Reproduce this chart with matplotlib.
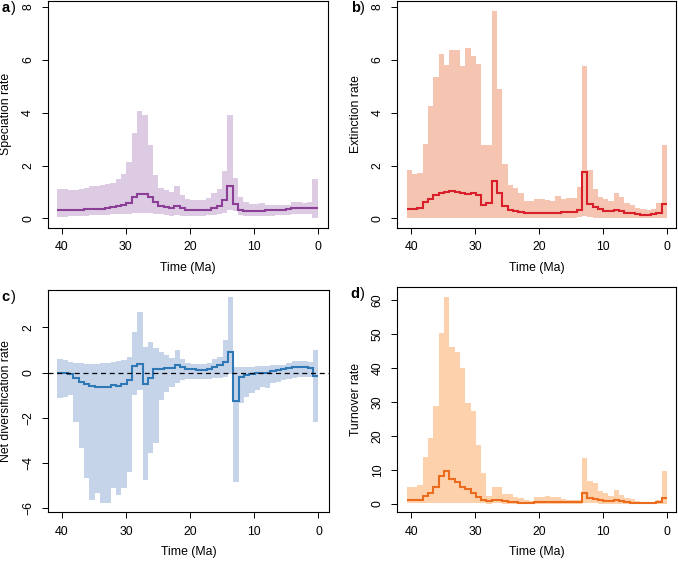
"""Diversification-rate through time, four panels (speciation, extinction, net, turnover)."""
import numpy as np
import matplotlib
matplotlib.use("Agg")
import matplotlib.pyplot as plt

plt.rcParams["font.family"] = ["Liberation Sans", "DejaVu Sans"]
plt.rcParams["font.size"] = 8

# 49 time bins, oldest (40.7 Ma) to present
edges = np.linspace(40.7, 0, 50)

spec_mean = [0.33, 0.33, 0.33, 0.33, 0.33, 0.34, 0.35, 0.35, 0.36, 0.38, 0.41, 0.45, 0.50,
             0.58, 0.80, 0.93, 0.91, 0.80, 0.62, 0.45, 0.42, 0.40, 0.48, 0.38, 0.32, 0.30,
             0.30, 0.30, 0.33, 0.40, 0.48, 0.70, 1.22, 0.55, 0.32, 0.27, 0.27, 0.28, 0.27,
             0.30, 0.30, 0.32, 0.33, 0.34, 0.38, 0.39, 0.40, 0.38, 0.38]
spec_low = [0.05, 0.06, 0.07, 0.08, 0.09, 0.10, 0.11, 0.12, 0.13, 0.14, 0.15, 0.16, 0.17,
            0.18, 0.20, 0.21, 0.21, 0.20, 0.18, 0.15, 0.12, 0.10, 0.11, 0.10, 0.10, 0.10,
            0.10, 0.10, 0.11, 0.13, 0.16, 0.20, 0.30, 0.28, 0.14, 0.10, 0.09, 0.09, 0.09,
            0.10, 0.10, 0.11, 0.12, 0.13, 0.15, 0.16, 0.17, 0.16, 0.00]
spec_high = [1.11, 1.10, 1.09, 1.07, 1.10, 1.16, 1.24, 1.21, 1.26, 1.29, 1.34, 1.49, 1.69,
             2.15, 3.22, 4.07, 3.91, 2.78, 1.64, 1.16, 1.07, 0.98, 1.24, 0.88, 0.72, 0.70,
             0.68, 0.70, 0.78, 0.95, 1.10, 1.78, 3.92, 1.52, 0.80, 0.62, 0.55, 0.55, 0.58,
             0.52, 0.50, 0.50, 0.50, 0.52, 0.60, 0.60, 0.58, 0.62, 1.50]

ext_mean = [0.37, 0.37, 0.38, 0.61, 0.73, 0.88, 0.96, 1.01, 1.02, 1.00, 0.97, 0.93, 0.97,
            0.88, 0.52, 0.57, 1.40, 0.95, 0.45, 0.33, 0.28, 0.25, 0.21, 0.20, 0.19, 0.19,
            0.20, 0.21, 0.22, 0.24, 0.25, 0.25, 0.30, 1.77, 0.55, 0.42, 0.34, 0.29, 0.27,
            0.32, 0.27, 0.21, 0.19, 0.16, 0.14, 0.13, 0.16, 0.21, 0.55]
ext_low = [0.02, 0.02, 0.02, 0.02, 0.01, 0.01, 0.01, 0.01, 0.01, 0.01, 0.01, 0.01, 0.01,
           0.01, 0.01, 0.01, 0.02, 0.02, 0.02, 0.02, 0.02, 0.02, 0.02, 0.02, 0.02, 0.02,
           0.02, 0.02, 0.02, 0.02, 0.02, 0.03, 0.04, 0.10, 0.04, 0.02, 0.02, 0.02, 0.02,
           0.02, 0.02, 0.02, 0.02, 0.02, 0.02, 0.02, 0.02, 0.02, 0.00]
ext_high = [1.83, 1.67, 1.72, 2.82, 4.27, 5.35, 6.23, 5.80, 6.38, 6.36, 5.75, 6.45, 6.13,
            5.85, 2.78, 2.78, 7.86, 4.89, 2.06, 1.26, 1.16, 0.97, 0.66, 0.66, 0.72, 0.73,
            0.70, 0.67, 0.85, 0.73, 0.77, 0.78, 1.18, 5.78, 1.83, 1.10, 0.82, 0.73, 0.67,
            0.97, 0.82, 0.57, 0.50, 0.38, 0.34, 0.32, 0.37, 0.57, 2.78]

net_mean = [-0.03, -0.03, -0.07, -0.25, -0.40, -0.50, -0.59, -0.65, -0.65, -0.62, -0.55,
            -0.59, -0.50, -0.32, 0.30, 0.37, -0.50, -0.25, 0.15, 0.15, 0.19, 0.22, 0.32,
            0.24, 0.18, 0.15, 0.13, 0.13, 0.15, 0.24, 0.34, 0.49, 0.93, -1.24, -0.18,
            -0.10, -0.06, -0.03, 0.00, -0.03, 0.07, 0.12, 0.15, 0.19, 0.27, 0.27, 0.27,
            0.19, -0.15]
net_low = [-1.14, -1.06, -0.99, -2.17, -3.35, -4.65, -5.63, -5.34, -5.78, -5.75, -5.12,
           -5.41, -5.12, -4.38, -0.99, -0.77, -4.75, -3.57, -3.13, -1.21, -0.84, -0.62,
           -0.47, -0.32, -0.30, -0.30, -0.28, -0.28, -0.27, -0.25, -0.22, -0.18, -0.05,
           -4.82, -1.36, -1.06, -0.91, -0.77, -0.62, -0.69, -0.47, -0.40, -0.32, -0.30,
           -0.25, -0.21, -0.18, -0.21, -2.17]
net_high = [0.60, 0.56, 0.49, 0.44, 0.41, 0.38, 0.38, 0.38, 0.41, 0.41, 0.47, 0.52, 0.56,
            0.71, 1.81, 2.70, 1.15, 1.34, 1.08, 0.93, 0.78, 0.63, 1.00, 0.59, 0.44, 0.37,
            0.37, 0.38, 0.44, 0.59, 0.71, 1.45, 3.36, 0.24, 0.24, 0.24, 0.27, 0.30, 0.30,
            0.30, 0.32, 0.34, 0.34, 0.41, 0.53, 0.53, 0.53, 0.49, 1.00]

turn_mean = [1.1, 1.1, 1.2, 2.35, 3.3, 5.1, 8.2, 9.7, 7.4, 6.5, 4.9, 4.3, 3.1, 2.2, 1.2,
             0.8, 1.3, 1.1, 0.8, 0.6, 0.5, 0.4, 0.3, 0.4, 0.6, 0.6, 0.6, 0.6, 0.6, 0.6,
             0.6, 0.6, 0.6, 3.1, 1.8, 1.5, 1.2, 1.0, 0.9, 1.2, 0.9, 0.6, 0.4, 0.3, 0.2,
             0.2, 0.3, 0.5, 1.8]
turn_low = [0.2, 0.2, 0.2, 0.2, 0.2, 0.3, 0.3, 0.3, 0.3, 0.3, 0.3, 0.3, 0.2, 0.2, 0.2,
            0.1, 0.2, 0.2, 0.1, 0.1, 0.1, 0.1, 0.1, 0.1, 0.1, 0.1, 0.1, 0.1, 0.1, 0.1,
            0.1, 0.1, 0.1, 0.3, 0.2, 0.2, 0.1, 0.1, 0.1, 0.1, 0.1, 0.1, 0.1, 0.1, 0.0,
            0.0, 0.0, 0.1, 0.0]
turn_high = [4.9, 4.9, 5.6, 13.9, 19.3, 28.8, 50.2, 61.0, 46.1, 44.8, 39.9, 29.6, 27.5,
             17.5, 9.2, 2.35, 4.9, 4.9, 2.9, 2.9, 2.2, 1.7, 1.2, 1.0, 2.2, 2.2, 2.35, 2.2,
             2.0, 1.4, 1.2, 1.2, 1.2, 13.4, 6.8, 6.1, 3.9, 3.1, 2.35, 4.1, 2.65, 1.7, 1.4,
             0.9, 0.7, 0.6, 0.7, 1.2, 9.6]

panels = [
    ("a", "Speciation rate", spec_mean, spec_low, spec_high, "#dccbe3", "#8b3f97",
     [0.0704, 0.5948, 0.4139, 0.4034], (-0.356, 8.23), [0, 2, 4, 6, 8], (42.2, -1.65)),
    ("b", "Extinction rate", ext_mean, ext_low, ext_high, "#f6c5b1", "#d7202a",
     [0.586, 0.5948, 0.4112, 0.4034], (-0.356, 8.23), [0, 2, 4, 6, 8], (42.2, -1.45)),
    ("c", "Net diversification rate", net_mean, net_low, net_high, "#c6d4ea", "#2e78b6",
     [0.0704, 0.0884, 0.4149, 0.3956], (-6.18, 3.66), [-6, -4, -2, 0, 2], (42.2, -1.65)),
    ("d", "Turnover rate", turn_mean, turn_low, turn_high, "#fdd1ac", "#eb6c1f",
     [0.586, 0.0884, 0.4112, 0.4014], (-2.44, 63.9), [0, 10, 20, 30, 40, 50, 60], (42.2, -1.45)),
]

fig = plt.figure(figsize=(6.78, 5.62), dpi=100)
x_edges = edges[::-1]

for tag, ylab, mean, low, high, fill_c, line_c, rect, ylim, yticks, xlim in panels:
    ax = fig.add_axes(rect)
    ax.stairs(np.array(high)[::-1], x_edges, baseline=np.array(low)[::-1],
              fill=True, color=fill_c, lw=0)
    ax.stairs(np.array(mean)[::-1], x_edges, baseline=None, color=line_c, lw=1.5)
    if tag == "c":
        ax.axhline(0, color="black", lw=0.9, ls=(0, (4, 3)))
    ax.set_xlim(*xlim)
    ax.set_ylim(*ylim)
    ax.set_xticks([40, 30, 20, 10, 0])
    ax.set_yticks(yticks)
    ax.tick_params(direction="out", length=4.3, width=0.7, pad=5.5, labelsize=8.8)
    for lab in ax.get_yticklabels():
        lab.set_rotation(90)
        lab.set_va("center")
    for s in ax.spines.values():
        s.set_linewidth(0.8)
    ax.set_xlabel("Time (Ma)", fontsize=8.8)
    ax.xaxis.set_label_coords(0.5, -0.15)
    ax.set_ylabel(ylab, fontsize=8.8)
    ax.yaxis.set_label_coords(-0.128, 0.5)

    # panel letter: bold letter + plain parenthesis
    x0 = rect[0] - 46.5 / 678
    y0 = rect[1] + rect[3] - 7 / 562
    fig.text(x0, y0, tag, fontsize=10.5, fontweight="bold", va="center", ha="left")
    fig.text(x0 + 9.5 / 678, y0, ")", fontsize=10.5, va="center", ha="left")

fig.savefig("out.png", dpi=100)
